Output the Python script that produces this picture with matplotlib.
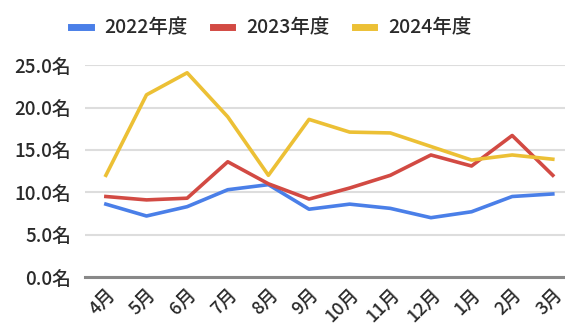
import numpy as np
import matplotlib.pyplot as plt
from matplotlib.lines import Line2D

plt.rcParams['font.family'] = ['Noto Sans CJK JP', 'DejaVu Sans']

months = ['4月', '5月', '6月', '7月', '8月', '9月', '10月', '11月', '12月', '1月', '2月', '3月']
fy2022 = [8.6, 7.2, 8.3, 10.3, 10.9, 8.0, 8.6, 8.1, 7.0, 7.7, 9.5, 9.8]
fy2023 = [9.5, 9.1, 9.3, 13.6, 11.0, 9.2, 10.5, 12.0, 14.4, 13.1, 16.7, 12.0]
fy2024 = [12.0, 21.5, 24.1, 18.9, 12.0, 18.6, 17.1, 17.0, 15.4, 13.8, 14.4, 13.9]
labels = ['2022年度', '2023年度', '2024年度']
colors = ['#4a7fe8', '#d24a43', '#ecc035']
yticks = [0, 5, 10, 15, 20, 25]

fig = plt.figure(figsize=(5.65, 3.29), dpi=100)
ax = fig.add_axes([0.150, 0.158, 0.85, 0.644])

x = np.arange(len(months))
for vals, c, lab in zip([fy2022, fy2023, fy2024], colors, labels):
    ax.plot(x, vals, color=c, lw=2.6, label=lab)

ax.set_ylim(0, 25)
ax.set_xlim(-0.52, 11.3)
ax.set_yticks(yticks)
ax.set_yticklabels(['%.1f名' % v for v in yticks], fontsize=13.5, color='#2a2a2a',
                   fontweight='medium')
ax.set_xticks(x)
ax.set_xticklabels(months, rotation=45, ha='right', va='top', fontsize=13,
                   color='#2a2a2a', rotation_mode='anchor', fontweight='medium')
ax.tick_params(length=0, pad=10)
ax.tick_params(axis='x', pad=6)
ax.grid(axis='y', color='#dddddd', lw=1.5)
ax.set_axisbelow(True)
for s in ['top', 'right', 'left']:
    ax.spines[s].set_visible(False)
ax.spines['bottom'].set_color('#888888')
ax.spines['bottom'].set_linewidth(2.2)

handles = [Line2D([], [], color=c, lw=5) for c in colors]
fig.legend(handles, labels, loc='center', bbox_to_anchor=(0.48, 0.915), ncol=3,
           frameon=False, prop={'size': 14, 'weight': 'medium'}, handlelength=1.0,
           handletextpad=0.7, columnspacing=1.3, labelcolor='#2a2a2a')

plt.savefig('out.png')
